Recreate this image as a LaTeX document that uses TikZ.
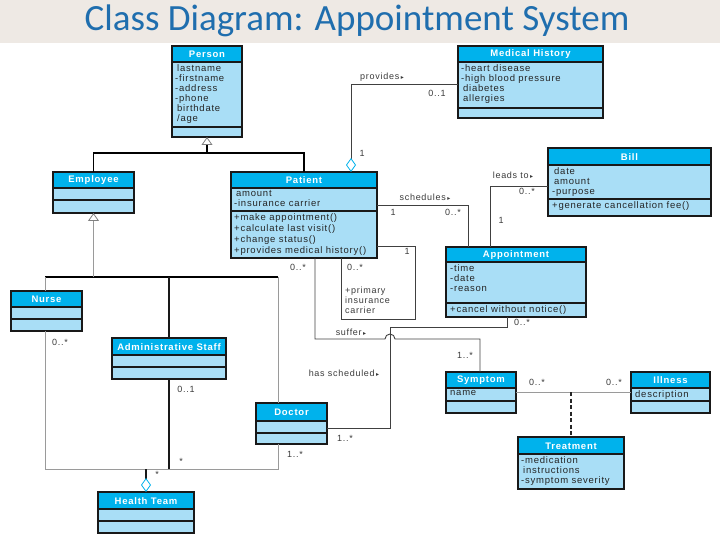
\documentclass[tikz,border=0pt]{standalone}
\usepackage{fontspec}
\setmainfont{Liberation Sans}
\newfontfamily\boxfont{Liberation Sans}[LetterSpace=8]
\newfontfamily\titlefont{Carlito}
\newfontfamily\symfont{DejaVu Sans}
\usetikzlibrary{arrows.meta}
\definecolor{hdr}{HTML}{00B2EC}
\definecolor{cmp}{HTML}{A9DEF6}
\definecolor{ttl}{HTML}{1F6EAE}
\definecolor{band}{HTML}{EEE9E4}
\definecolor{lbl}{HTML}{3A3A3A}
\definecolor{lgray}{HTML}{9A9A9A}
\newcommand{\tri}{\,{\symfont\fontsize{6}{6}\selectfont ▸}}
\newcommand{\umlbox}[8]{%
  \node[boxbody, anchor=north west, minimum width={(#4-#2)*1pt}, minimum height={(#5-#3)*1pt}] (#1) at (#2,#3) {};
  \fill[hdr] (#2,#3) rectangle (#4,#6);
  \draw[boxline] (#2,#6) -- (#4,#6) (#2,#7) -- (#4,#7);
  \draw[boxline] (#1.north west) rectangle (#1.south east);
  \node[hdrtext] (#1-h) at ({(#2+#4)/2},{(#3+#6)/2+0.5}) {#8};
}
\begin{document}
\begin{tikzpicture}[x=1pt,y=-1pt,
  boxbody/.style={fill=cmp, draw=none, inner sep=0, outer sep=0},
  boxline/.style={draw=black!90, line width=1.1pt},
  hdrtext/.style={inner sep=0, font=\boxfont\bfseries\fontsize{9.5}{10}\selectfont, text=white},
  attr/.style={anchor=north west, inner sep=0, align=left, font=\boxfont\fontsize{9.5}{10}\selectfont, text=black!85},
  lab/.style={inner sep=0, font=\boxfont\fontsize{9}{10}\selectfont, text=lbl},
  genline/.style={draw=black, line width=1.3pt},
  grayline/.style={draw=lgray, line width=1pt},
  thickline/.style={draw=black!90, line width=2pt},
  assoc/.style={draw=black!75, line width=0.9pt},
  gentip/.style={-{Triangle[length=8pt,width=11pt,fill=white,color=gray,line width=0.8pt]}},
  diatip/.style={-{Diamond[length=14pt,width=10pt,fill=white,color=hdr,line width=0.8pt]}}
]
\useasboundingbox (0,0) rectangle (720,540);
\fill[band] (0,0) rectangle (720,43);
\node[inner sep=0, font=\titlefont\fontsize{37}{40}\selectfont, text=ttl] (title) at (357,21) {Class Diagram: Appointment System};

% classes
\umlbox{person}{172}{46}{242}{137}{62}{127}{Person}
\umlbox{medhist}{458}{46}{603}{118}{62}{108}{Medical History}
\umlbox{employee}{53}{172}{134}{213}{188}{200}{Employee}
\umlbox{patient}{231}{172}{377}{258}{188}{211}{Patient}
\umlbox{bill}{548}{148}{711}{216}{165}{199}{Bill}
\umlbox{appt}{446}{247}{586}{317}{262}{303}{Appointment}
\umlbox{nurse}{11}{291}{82}{331}{307}{319}{Nurse}
\umlbox{admin}{112}{338}{226}{379}{355}{367}{Administrative Staff}
\umlbox{doctor}{256}{403}{327}{444}{421}{433}{Doctor}
\umlbox{healthteam}{98}{492}{194}{533}{509}{521}{Health Team}
\umlbox{symptom}{446}{372}{516}{413}{388}{401}{Symptom}
\umlbox{illness}{631}{372}{710}{413}{388}{401}{Illness}
\umlbox{treatment}{518}{437}{624}{489}{454}{489}{Treatment}

% compartment texts
\node[attr] (personA) at (175,64) {\hspace{2pt}lastname\\-firstname\\-address\\-phone\\\hspace{2pt}birthdate\\\hspace{2pt}/age};
\node[attr] (medhistA) at (461,64) {-heart disease\\-high blood pressure\\\hspace{2pt}diabetes\\\hspace{2pt}allergies};
\node[attr] (patientA) at (234,190) {\hspace{2pt}amount\\-insurance carrier};
\node[attr] (patientO) at (234,213) {+make appointment()\\[1pt]+calculate last visit()\\[1pt]+change status()\\[1pt]+provides medical history()};
\node[attr] (billA) at (552,167) {\hspace{2pt}date\\\hspace{2pt}amount\\-purpose};
\node[attr] (billO) at (552,201) {+generate cancellation fee()};
\node[attr] (apptA) at (450,264) {-time\\-date\\-reason};
\node[attr] (apptO) at (450,305) {+cancel without notice()};
\node[attr] (symptomA) at (450,390) {name};
\node[attr] (illnessA) at (635,390) {description};
\node[attr] (treatmentA) at (521,456) {-medication\\\hspace{2pt}instructions\\-symptom severity};

% bend points
\coordinate (g1) at (207,153);
\coordinate (g2) at (95,277);
\coordinate (g2r) at (278,277);
\coordinate (g2l) at (45,277);
\coordinate (h1) at (146,469);
\coordinate (h1l) at (45,469);
\coordinate (h1r) at (278,469);
\coordinate (pv) at (351,84);
\coordinate (sc) at (468,205);
\coordinate (lt) at (490,186);
\coordinate (sa1) at (415,246);
\coordinate (sa2) at (341,319);
\coordinate (su1) at (315,339);
\coordinate (su2) at (480,339);
\coordinate (hs1) at (507,327);
\coordinate (hs2) at (390,428);
\coordinate (tr) at (571,392);

% generalization Person
\draw[genline] (employee.north) |- (g1) -| (patient.north);
\draw[genline, gentip] (g1) -- (person.south);
% generalization Employee
\draw[genline] (g2l) -- (g2r);
\draw[grayline, gentip] (employee.south |- g2) -- (employee.south);
\draw[grayline] (g2l) -- (nurse.north -| g2l);
\draw[grayline] (g2r) -- (doctor.north -| g2r);
\draw[thickline] (admin.north |- g2) -- (admin.north);
% health team aggregation
\draw[grayline] (nurse.south -| h1l) -- (h1l) -- (h1r) -- (doctor.south -| h1r);
\draw[thickline] (admin.south) -- (admin.south |- h1);
\draw[thickline, diatip] (h1) -- (healthteam.north -| h1);
% provides
\draw[assoc, diatip] (medhist.west |- pv) -| (patient.north -| pv);
% schedules
\draw[assoc] (patient.east |- sc) -| (appt.north -| sc);
% leads to
\draw[assoc] (appt.north -| lt) |- (bill.west |- lt);
% primary insurance carrier (reflexive)
\draw[assoc] (patient.east |- sa1) -- (sa1) |- (sa2) -- (patient.south -| sa2);
% has scheduled
\draw[assoc] (appt.south -| hs1) -- (hs1) -| (hs2) -- (doctor.east |- hs2);
% suffer (with hop)
\draw[assoc] (patient.south -| su1) -- (su1) -- (385,339) arc[start angle=180, end angle=0, radius=5pt] -- (su2) -- (symptom.north -| su2);
% symptom - illness, treatment
\draw[grayline] (symptom.east) -- (illness.west);
\draw[draw=black!85, line width=1.6pt, dash pattern=on 4pt off 2.5pt] (tr) -- (treatment.north -| tr);

% labels
\node[lab] (l1) at (382,77) {provides\tri};
\node[lab] (l2) at (437,93) {0..1};
\node[lab] (l3) at (362,153) {1};
\node[lab] (l4) at (425,197) {schedules\tri};
\node[lab] (l5) at (393,212) {1};
\node[lab] (l6) at (453,212) {0..*};
\node[lab] (l7) at (513,175) {leads to\tri};
\node[lab] (l8) at (527,191) {0..*};
\node[lab] (l9) at (501,220) {1};
\node[lab] (l10) at (407,251) {1};
\node[lab] (l11) at (355,267) {0..*};
\node[lab, anchor=north west, align=left] (l12) at (345,287) {+primary\\insurance\\carrier};
\node[lab] (l13) at (298,267) {0..*};
\node[lab] (l14) at (351,332) {suffer\tri};
\node[lab] (l15) at (465,355) {1..*};
\node[lab] (l16) at (522,322) {0..*};
\node[lab] (l17) at (344,373) {has scheduled\tri};
\node[lab] (l18) at (345,438) {1..*};
\node[lab] (l19) at (537,382) {0..*};
\node[lab] (l20) at (614,382) {0..*};
\node[lab] (l21) at (60,342) {0..*};
\node[lab] (l22) at (186,389) {0..1};
\node[lab] (l23) at (181,461) {*};
\node[lab] (l24) at (157,474) {*};
\node[lab] (l25) at (295,454) {1..*};
\end{tikzpicture}
\end{document}
